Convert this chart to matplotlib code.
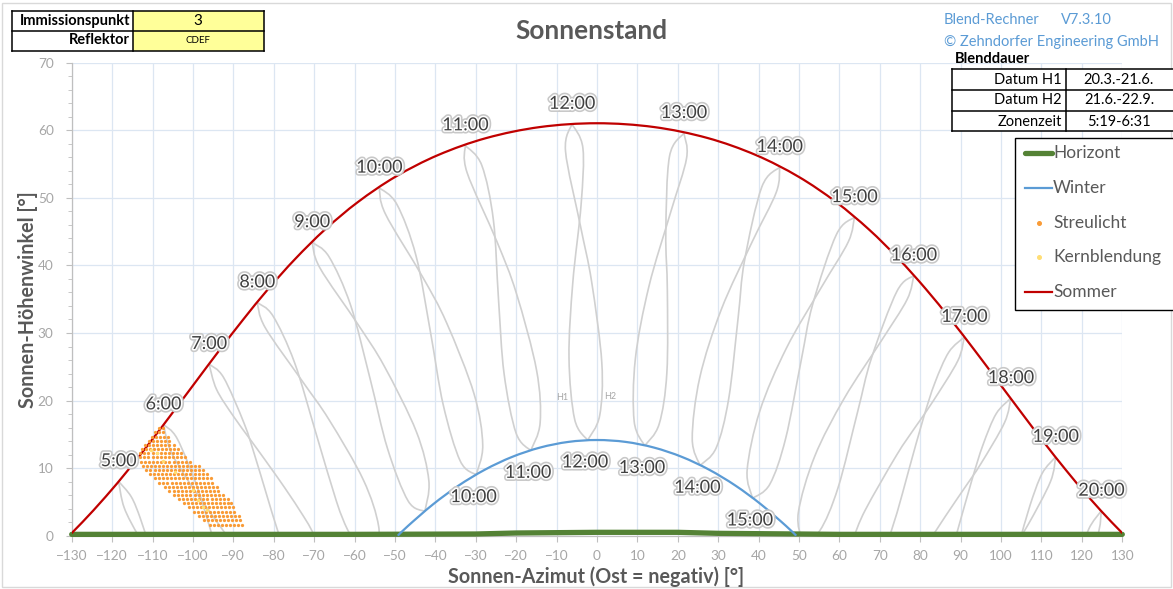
import numpy as np
import matplotlib
matplotlib.use("Agg")
import matplotlib.pyplot as plt
from matplotlib.path import Path
from matplotlib.patches import PathPatch, Rectangle
from matplotlib.lines import Line2D
import matplotlib.patheffects as pe

plt.rcParams["font.family"] = ["Lato", "DejaVu Sans"]

# ---------------- data ----------------
summer_az = [-130.69, -127.33, -121.57, -115.93, -110.36, -104.82, -99.23, -93.52, -87.60,
             -81.36, -74.64, -67.30, -59.12, -49.86, -39.30, -27.33, -14.07, 0.0,
             14.07, 27.33, 39.30, 49.86, 59.12, 67.30, 74.64, 81.36, 87.60, 93.52,
             99.23, 104.82, 110.36, 115.93, 121.57, 127.33, 130.69]
summer_el = [0.0, 2.02, 5.79, 9.80, 14.01, 18.37, 22.84, 27.39, 31.96, 36.52, 40.99,
             45.32, 49.40, 53.13, 56.34, 58.86, 60.48, 61.04, 60.48, 58.86, 56.34,
             53.13, 49.40, 45.32, 40.99, 36.52, 31.96, 27.39, 22.84, 18.37, 14.01,
             9.80, 5.79, 2.02, 0.0]

winter_az = [-49.31, -46.73, -40.60, -34.28, -27.74, -21.01, -14.11, -7.09, 0.0,
             7.09, 14.11, 21.01, 27.74, 34.28, 40.60, 46.73, 49.31]
winter_el = [0.0, 1.47, 4.63, 7.41, 9.77, 11.66, 13.04, 13.88, 14.16, 13.88, 13.04,
             11.66, 9.77, 7.41, 4.63, 1.47, 0.0]

horizon_az = [-130, -100, -60, -30, -20, 0, 20, 30, 60, 100, 130]
horizon_el = [0.2, 0.2, 0.2, 0.25, 0.4, 0.5, 0.5, 0.35, 0.2, 0.2, 0.2]

# hour marks on the summer path (clock time)
summer_hours = ["5:00", "6:00", "7:00", "8:00", "9:00", "10:00", "11:00", "12:00",
                "13:00", "14:00", "15:00", "16:00", "17:00", "18:00", "19:00", "20:00"]
summer_hour_az = [-118.4, -107.3, -96.0, -84.1, -70.5, -53.9, -32.6, -6.2,
                  21.5, 45.2, 63.7, 78.4, 90.9, 102.4, 113.5, 124.8]
summer_hour_el = [8.04, 16.45, 25.39, 34.51, 43.41, 51.49, 57.75, 60.93,
                  59.57, 54.54, 47.12, 38.49, 29.4, 20.34, 11.65, 3.68]

# hour marks on the winter path
winter_hours = ["10:00", "11:00", "12:00", "13:00", "14:00", "15:00"]
winter_hour_az = [-29.9, -16.4, -2.32, 11.8, 25.5, 38.5]
winter_hour_el = [9.0, 12.59, 14.13, 13.31, 10.39, 5.54]

# hourly year loops: H1 = first half-year branch, H2 = second half-year branch
loop_h1_05 = [(-118.4, 8.04), (-115.27, 5.77), (-113.07, 2.66), (-110.91, -1.32)]
loop_h2_05 = [(-118.4, 8.04), (-117.02, 4.16), (-113.45, -0.06), (-109.22, -4.05)]
loop_h1_06 = [(-107.3, 16.45), (-103.91, 14.38), (-99.12, 7.50), (-96.51, 2.56), (-93.77, -2.89)]
loop_h2_06 = [(-107.3, 16.45), (-105.62, 12.67), (-101.74, 8.65), (-97.35, 4.82), (-90.83, -0.64)]
loop_h1_07 = [(-96.0, 25.39), (-92.43, 23.43), (-87.33, 16.62), (-84.61, 11.70), (-81.84, 6.23),
              (-79.06, 0.81), (-76.46, -3.49)]
loop_h2_07 = [(-96.0, 25.39), (-94.17, 21.67), (-90.05, 17.74), (-85.47, 13.96), (-78.87, 8.46),
              (-73.66, 3.83), (-70.01, 0.05), (-65.75, -6.5)]
loop_h1_08 = [(-84.1, 34.51), (-80.21, 32.54), (-74.87, 25.65), (-69.51, 15.09), (-64.50, 5.12),
              (-61.77, 0.94), (-58.80, -2.13)]
loop_h2_08 = [(-84.1, 34.51), (-82.12, 30.80), (-73.00, 22.93), (-66.33, 17.18), (-57.82, 8.25),
              (-54.04, 1.40), (-54.59, -3.24)]
loop_h1_09 = [(-70.5, 43.41), (-66.33, 41.29), (-60.98, 34.12), (-56.15, 23.22), (-51.84, 12.89),
              (-46.75, 5.15), (-42.6, 3.60)]
loop_h2_09 = [(-70.5, 43.41), (-68.58, 39.64), (-59.18, 31.29), (-52.62, 25.06), (-44.70, 15.39),
              (-41.62, 8.18), (-42.6, 3.60)]
loop_h1_10 = [(-53.9, 51.49), (-49.53, 49.04), (-44.79, 41.42), (-41.20, 30.09), (-38.05, 19.35),
              (-33.85, 11.06), (-29.9, 9.0)]
loop_h2_10 = [(-53.9, 51.49), (-52.36, 47.61), (-43.28, 38.42), (-37.23, 31.52), (-30.42, 20.97),
              (-28.28, 13.42), (-29.9, 9.0)]
loop_h1_11 = [(-32.6, 57.75), (-28.52, 54.82), (-25.64, 46.71), (-24.38, 35.04), (-23.0, 24.0),
              (-20.04, 15.21), (-16.4, 12.59)]
loop_h2_11 = [(-32.6, 57.75), (-32.17, 53.77), (-24.78, 43.54), (-19.96, 35.89), (-14.96, 24.50),
              (-14.07, 16.73), (-16.4, 12.59)]
loop_h1_12 = [(-6.2, 60.93), (-3.49, 57.36), (-3.93, 49.05), (-5.99, 37.45), (-6.93, 26.37),
              (-5.53, 17.23), (-2.32, 14.13)]
loop_h2_12 = [(-6.2, 60.93), (-7.79, 56.91), (-4.09, 45.83), (-1.33, 37.59), (1.19, 25.59),
              (0.67, 17.80), (-2.32, 14.13)]
loop_h1_13 = [(21.5, 59.57), (22.17, 55.88), (18.25, 47.91), (12.85, 36.89), (9.49, 26.16),
              (9.20, 16.93), (11.8, 13.31)]
loop_h2_13 = [(21.5, 59.57), (17.93, 56.10), (17.03, 44.80), (17.41, 36.31), (17.29, 24.13),
              (15.38, 16.52), (11.8, 13.31)]
loop_h1_14 = [(45.2, 54.54), (44.38, 50.84), (38.44, 43.54), (30.77, 33.49), (25.44, 23.41),
              (23.57, 14.36), (25.5, 10.39)]
loop_h2_14 = [(45.2, 54.54), (40.78, 51.60), (36.50, 40.67), (34.93, 32.27), (32.59, 20.26),
              (29.52, 13.03), (25.5, 10.39)]
loop_h1_15 = [(63.7, 47.12), (62.19, 43.49), (55.62, 36.85), (46.88, 27.76), (40.29, 18.45),
              (37.16, 9.73), (38.5, 5.54)]
loop_h2_15 = [(63.7, 47.12), (59.25, 44.57), (53.36, 34.21), (50.57, 26.06), (46.70, 14.42),
              (42.78, 7.63), (38.5, 5.54)]
loop_h1_16 = [(78.4, 38.49), (76.72, 34.93), (70.22, 28.71), (61.21, 20.35), (53.88, 11.75),
              (49.83, 3.44), (50.74, -0.85)]
loop_h2_16 = [(78.4, 38.49), (74.23, 36.17), (67.90, 26.24), (64.50, 18.34), (59.66, 7.11),
              (55.12, 0.73), (50.74, -0.85)]
loop_h1_17 = [(90.9, 29.4), (89.28, 25.87), (83.08, 19.82), (78.75, 16.05), (74.12, 11.90),
              (66.41, 3.82), (63.51, -0.25)]
loop_h2_17 = [(90.9, 29.4), (87.06, 27.16), (83.61, 22.61), (80.80, 17.44), (77.16, 9.71),
              (74.25, 3.39), (71.75, -1.22)]
loop_h1_18 = [(102.4, 20.34), (100.87, 16.76), (95.03, 10.68), (90.82, 6.94), (86.23, 2.89),
              (81.75, -1.23)]
loop_h2_18 = [(102.4, 20.34), (98.78, 18.04), (95.54, 13.47), (92.82, 8.32), (89.17, 0.64),
              (86.14, -5.61)]
loop_h1_19 = [(113.5, 11.65), (112.22, 8.00), (106.76, 1.71), (102.69, -2.13)]
loop_h2_19 = [(113.5, 11.65), (110.14, 9.19), (107.17, 4.51), (104.66, -0.71)]
loop_h1_20 = [(124.8, 3.68), (123.83, -0.06), (118.81, -6.71)]
loop_h2_20 = [(124.8, 3.68), (121.69, 0.97), (119.06, -3.89)]

loops_h1 = [loop_h1_05, loop_h1_06, loop_h1_07, loop_h1_08, loop_h1_09, loop_h1_10, loop_h1_11,
            loop_h1_12, loop_h1_13, loop_h1_14, loop_h1_15, loop_h1_16, loop_h1_17, loop_h1_18,
            loop_h1_19, loop_h1_20]
loops_h2 = [loop_h2_05, loop_h2_06, loop_h2_07, loop_h2_08, loop_h2_09, loop_h2_10, loop_h2_11,
            loop_h2_12, loop_h2_13, loop_h2_14, loop_h2_15, loop_h2_16, loop_h2_17, loop_h2_18,
            loop_h2_19, loop_h2_20]

# glare points (scattered light and core glare)
streulicht_az = [-108.4, -107.5,
                 -109.3, -108.3, -107.3,
                 -110.2, -109.2, -108.2, -107.2, -106.2,
                 -110.9, -109.9, -108.9, -107.9, -106.9, -105.9,
                 -111.8, -110.8, -109.8, -108.8, -107.8, -106.8, -105.8, -104.8,
                 -112.6, -111.6, -110.6, -109.6, -108.6, -107.6, -106.6, -105.6, -104.6, -103.6,
                 -113.0, -112.0, -111.0, -110.0, -109.0, -108.0, -107.0, -106.0, -105.0, -104.0, -103.0,
                 -113.0, -112.0, -111.0, -110.0, -109.0, -108.0, -107.0, -106.0, -105.0, -104.0, -103.0, -102.0,
                 -112.8, -111.8, -110.8, -109.8, -108.8, -107.8, -106.8, -105.8, -104.8, -103.8, -102.8, -101.8, -100.8,
                 -112.4, -111.4, -110.4, -109.4, -108.4, -107.4, -106.4, -105.4, -104.4, -103.4, -102.4, -101.4, -100.4, -99.4, -98.4,
                 -111.5, -110.5, -109.5, -108.5, -107.5, -106.5, -105.5, -104.5, -103.5, -102.5, -101.5, -100.5, -99.5, -98.5, -97.5,
                 -110.6, -109.6, -108.6, -107.6, -106.6, -105.6, -104.6, -103.6, -102.6, -101.6, -100.6, -99.6, -98.6, -97.6, -96.6,
                 -109.5, -108.5, -107.5, -106.5, -105.5, -104.5, -103.5, -102.5, -101.5, -100.5, -99.5, -98.5, -97.5, -96.5, -95.5,
                 -108.3, -107.3, -106.3, -105.3, -104.3, -103.3, -102.3, -101.3, -100.3, -99.3, -98.3, -97.3, -96.3, -95.3,
                 -107.0, -106.0, -105.0, -104.0, -103.0, -102.0, -101.0, -100.0, -99.0, -98.0, -97.0, -96.0, -95.0, -94.0,
                 -105.8, -104.8, -103.8, -102.8, -101.8, -100.8, -99.8, -98.8, -97.8, -96.8, -95.8, -94.8, -93.8,
                 -104.6, -103.6, -102.6, -101.6, -100.6, -99.6, -98.6, -97.6, -96.6, -95.6, -94.6, -93.6, -92.6,
                 -103.4, -102.4, -101.4, -100.4, -99.4, -98.4, -97.4, -96.4, -95.4, -94.4, -93.4, -92.4, -91.4,
                 -102.2, -101.2, -100.2, -99.2, -98.2, -97.2, -96.2, -95.2, -94.2, -93.2, -92.2, -91.2, -90.6,
                 -101.0, -100.0, -99.0, -98.0, -97.0, -96.0, -95.0, -94.0, -93.0, -92.0, -91.0, -90.0,
                 -99.8, -98.8, -97.8, -96.8, -95.8, -94.8, -93.8, -92.8, -91.8, -90.8, -89.8,
                 -98.6, -97.6, -96.6, -95.6, -94.6, -93.6, -92.6, -91.6, -90.6, -89.6, -88.6,
                 -97.3, -96.3, -95.3, -94.3, -93.3, -92.3, -91.3, -90.3, -89.3, -88.3,
                 -95.8, -94.8, -93.8, -92.8, -91.8, -90.8, -89.8, -88.8, -87.8]
streulicht_el = ([15.9] * 2 + [15.3] * 3 + [14.65] * 5 + [14.06] * 6 + [13.42] * 8 + [12.78] * 10
                 + [12.19] * 11 + [11.6] * 12 + [10.95] * 13 + [10.36] * 15 + [9.72] * 15
                 + [9.13] * 15 + [8.49] * 15 + [7.84] * 14 + [7.25] * 14 + [6.66] * 13
                 + [6.02] * 13 + [5.43] * 13 + [4.79] * 13 + [4.2] * 12 + [3.55] * 11
                 + [2.92] * 11 + [2.32] * 10 + [1.58] * 9)

kern_az = [-110.3, -109.0, -107.3, -104.4, -99.9, -98.7, -97.4, -96.6]
kern_el = [12.7, 12.2, 11.0, 9.5, 6.8, 5.3, 4.3, 3.8]

# ---------------- styles ----------------
GRID = "#DCE6F2"
AXIS_GRAY = "#BFBFBF"
TICK_TXT = "#A6A6A6"
TXT_DARK = "#595959"
LOOP_GRAY = "#D0D0D0"
RED = "#C00000"
BLUE = "#5B9BD5"
GREEN = "#548235"
ORANGE = "#F99B36"
YELLOW = "#FFDE75"

W, H = 1173, 589
fig = plt.figure(figsize=(W / 100, H / 100), dpi=100)
ax = fig.add_axes([71.7 / W, 1 - 535.7 / H, (1122.3 - 71.7) / W, (535.7 - 62.7) / H])


def smooth_path(points):
    """Smoothed Bezier path through the given points (spreadsheet-style smoothing)."""
    p = np.asarray(points, dtype=float)
    n = len(p)
    verts = [p[0]]
    codes = [Path.MOVETO]
    for i in range(n - 1):
        p0 = p[i - 1] if i > 0 else p[i]
        p1, p2 = p[i], p[i + 1]
        p3 = p[i + 2] if i + 2 < n else p[i + 1]
        verts += [p1 + (p2 - p0) / 6.0, p2 - (p3 - p1) / 6.0, p2]
        codes += [Path.CURVE4] * 3
    return Path(verts, codes)


ax.set_xlim(-130, 130)
ax.set_ylim(0, 70)
ax.set_xticks(np.arange(-130, 131, 10))
ax.set_yticks(np.arange(0, 71, 10))
ax.set_yticks(np.arange(0, 71, 2), minor=True)
ax.grid(True, which="major", color=GRID, linewidth=0.9)
ax.set_axisbelow(True)
for side in ("top", "right"):
    ax.spines[side].set_visible(False)
for side in ("left", "bottom"):
    ax.spines[side].set_color(AXIS_GRAY)
    ax.spines[side].set_linewidth(0.9)
ax.tick_params(axis="both", which="both", colors=AXIS_GRAY, labelcolor=TICK_TXT,
               labelsize=9.8, direction="out")
ax.tick_params(axis="x", which="major", length=4, pad=6)
ax.tick_params(axis="y", which="major", length=4, pad=9)
ax.tick_params(axis="y", which="minor", length=3)

# year loops for each clock hour
for branch in loops_h1 + loops_h2:
    ax.add_patch(PathPatch(smooth_path(branch), fill=False, edgecolor=LOOP_GRAY,
                           linewidth=1.2, zorder=2))

ax.text(-8.5, 20.4, "H1", fontsize=6.5, color="#A6A6A6", ha="center", va="center", zorder=3)
ax.text(3.2, 20.6, "H2", fontsize=6.5, color="#A6A6A6", ha="center", va="center", zorder=3)

# horizon, sun paths
ax.plot(horizon_az, horizon_el, color=GREEN, linewidth=3.8, solid_capstyle="round",
        zorder=4, clip_on=False)
ax.add_patch(PathPatch(smooth_path(list(zip(winter_az, winter_el))), fill=False,
                       edgecolor=BLUE, linewidth=1.6, zorder=5))
ax.add_patch(PathPatch(smooth_path(list(zip(summer_az, summer_el))), fill=False,
                       edgecolor=RED, linewidth=1.6, zorder=5))

# glare points
ax.scatter(streulicht_az, streulicht_el, s=5.5, color=ORANGE, linewidths=0, zorder=6)
ax.scatter(kern_az, kern_el, s=6.5, color=YELLOW, linewidths=0, zorder=7)

# hour labels
halo = [pe.withStroke(linewidth=4.5, foreground="#C8C8C8"),
        pe.withStroke(linewidth=2.2, foreground="white")]
for lab, x, y in zip(summer_hours, summer_hour_az, summer_hour_el):
    ax.annotate(lab, (x, y), xytext=(0, 14.5), textcoords="offset points", ha="center",
                va="center", fontsize=13, color="#404040", path_effects=halo, zorder=8)
for lab, x, y in zip(winter_hours, winter_hour_az, winter_hour_el):
    ax.annotate(lab, (x, y), xytext=(-2, -16), textcoords="offset points", ha="center",
                va="center", fontsize=13, color="#404040", path_effects=halo, zorder=8)

# ---------------- overlay: titles, tables, legend ----------------
ov = fig.add_axes([0, 0, 1, 1], zorder=10)
ov.set_xlim(0, W)
ov.set_ylim(H, 0)
ov.axis("off")
ov.patch.set_alpha(0)

ov.add_patch(Rectangle((2, 3), W - 4, H - 5, fill=False, edgecolor="#D9D9D9", linewidth=1))
ov.text(591, 31, "Sonnenstand", fontsize=18.8, fontweight="bold", color=TXT_DARK,
        ha="center", va="center")
ov.text(596, 577, "Sonnen-Azimut (Ost = negativ) [°]", fontsize=14.2, fontweight="bold",
        color=TXT_DARK, ha="center", va="center")
ov.text(28, 300, "Sonnen-Höhenwinkel [°]", fontsize=14.2, fontweight="bold",
        color=TXT_DARK, ha="center", va="center", rotation=90)

# top-left info table
ov.add_patch(Rectangle((133, 11), 131, 40, facecolor="#FFFF99", edgecolor="none"))
for (x0, y0, x1, y1) in [(12, 11, 264, 11), (12, 30.5, 264, 30.5), (12, 50.5, 264, 50.5),
                         (12, 11, 12, 50.5), (133, 11, 133, 50.5), (264, 11, 264, 50.5)]:
    ov.plot([x0, x1], [y0, y1], color="black", linewidth=1.1)
ov.text(130, 21, "Immissionspunkt", fontsize=10.5, fontweight="bold", ha="right", va="center")
ov.text(130, 40.5, "Reflektor", fontsize=10.5, fontweight="bold", ha="right", va="center")
ov.text(198, 21, "3", fontsize=11, ha="center", va="center")
ov.text(198, 40.5, "CDEF", fontsize=7, ha="center", va="center")

# version text
ov.text(944, 20, "Blend-Rechner", fontsize=10.5, color=BLUE, ha="left", va="center")
ov.text(1061, 20, "V7.3.10", fontsize=10.5, color=BLUE, ha="left", va="center")
ov.text(944, 42, "© Zehndorfer Engineering GmbH", fontsize=10.5, color=BLUE, ha="left",
        va="center")

# glare duration table
ov.text(955, 59, "Blenddauer", fontsize=10.5, fontweight="bold", ha="left", va="center")
ov.add_patch(Rectangle((951.5, 69), 240, 62, facecolor="white", edgecolor="none"))
for yy in (69, 90, 111, 131):
    ov.plot([951.5, W + 5], [yy, yy], color="black", linewidth=1.1)
for xx in (951.5, 1066):
    ov.plot([xx, xx], [69, 131], color="black", linewidth=1.1)
rows_lbl = ["Datum H1", "Datum H2", "Zonenzeit"]
rows_val = ["20.3.-21.6.", "21.6.-22.9.", "5:19-6:31"]
for i, (lb, vl) in enumerate(zip(rows_lbl, rows_val)):
    yc = 79.5 + 21 * i
    ov.text(1062, yc, lb, fontsize=10.5, ha="right", va="center")
    ov.text(1119, yc, vl, fontsize=10.5, ha="center", va="center")

# legend
ov.add_patch(Rectangle((1015, 138), 200, 172, facecolor="white", edgecolor="black",
                       linewidth=1.0))
leg_items = [("Horizont", dict(color=GREEN, linewidth=3.8, solid_capstyle="round")),
             ("Winter", dict(color=BLUE, linewidth=1.6)),
             ("Streulicht", dict(color=ORANGE, marker="o", markersize=2.6, linestyle="none")),
             ("Kernblendung", dict(color=YELLOW, marker="o", markersize=2.6, linestyle="none")),
             ("Sommer", dict(color=RED, linewidth=1.6))]
for i, (lab, st) in enumerate(leg_items):
    yc = 153 + 34.8 * i
    if st.get("linestyle") == "none":
        ov.add_line(Line2D([1038.5], [yc], **st))
    else:
        ov.add_line(Line2D([1025, 1052], [yc, yc], **st))
    ov.text(1053, yc, lab, fontsize=12.5, color=TXT_DARK, ha="left", va="center")

fig.savefig("out.png", dpi=100)
